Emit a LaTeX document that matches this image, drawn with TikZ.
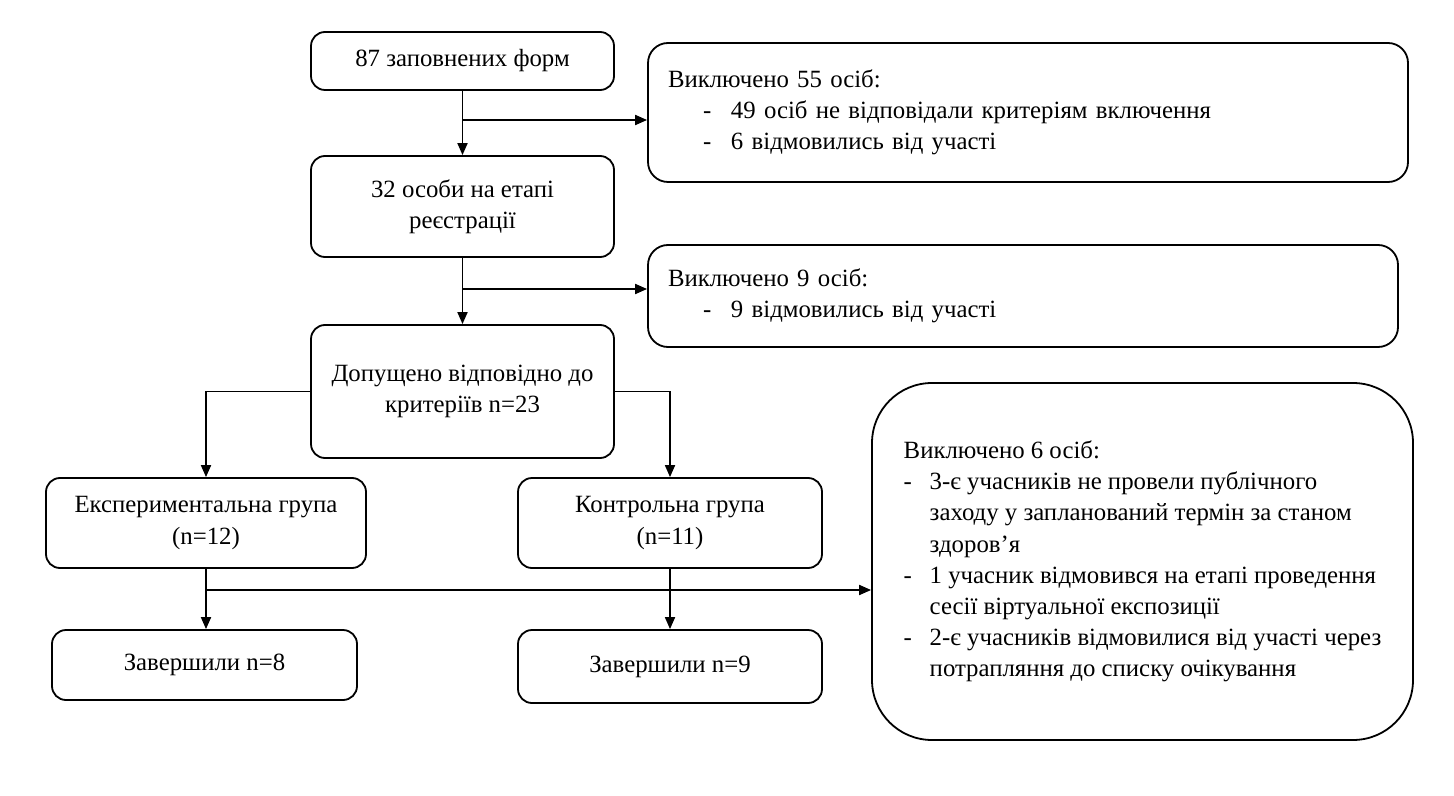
\documentclass[tikz,border=0pt]{standalone}
\usepackage{fontspec}
\setmainfont{Liberation Serif}
\usetikzlibrary{positioning, calc, arrows.meta}

\begin{document}
\begin{tikzpicture}[
    x=0.5pt, y=-0.5pt,
    box/.style={rectangle, draw, rounded corners=7pt, line width=0.9pt, align=center, inner sep=2pt, font=\fontsize{12.4}{15.6}\selectfont},
    excl/.style={box, align=left, inner xsep=10pt, rounded corners=10pt},
    flow_arrow/.style={-{Triangle[length=6pt, width=5pt]}, line width=0.9pt},
]
    \useasboundingbox (0,0) rectangle (1454,796);

    % Основний стовпець
    \node[box, minimum width=151.5pt, minimum height=29pt] (forms) at (462.5,61) {87 заповнених форм};
    \node[box, minimum width=151.5pt, minimum height=50.5pt] (reg) at (462.5,206.5) {32 особи на етапі\\реєстрації};
    \node[box, minimum width=151.5pt, minimum height=66.5pt] (adm) at (462.5,391.5) {Допущено відповідно до\\критеріїв n=23};

    % Групи
    \node[box, minimum width=160pt, minimum height=45pt] (exp) at (206,523) {Експериментальна група\\(n=12)};
    \node[box, minimum width=152pt, minimum height=45pt] (ctrl) at (670,523) {Контрольна група\\(n=11)};
    \node[box, minimum width=152.5pt, minimum height=35pt] (fin_exp) at (204.5,665) {Завершили n=8};
    \node[box, minimum width=152pt, minimum height=36.5pt] (fin_ctrl) at (670,666.5) {Завершили n=9};

    % Виключені
    \node[excl, minimum width=380pt, minimum height=69.5pt, text width=360pt] (excl_a) at (1028,112.5)
        {Виключено 55 осіб:\\
         \hspace*{17.5pt}\makebox[14pt][l]{-}49 осіб не відповідали критеріям включення\\
         \hspace*{17.5pt}\makebox[14pt][l]{-}6 відмовились від участі};
    \node[excl, minimum width=375pt, minimum height=51pt, text width=355pt] (excl_b) at (1023,296)
        {Виключено 9 осіб:\\
         \hspace*{17.5pt}\makebox[14pt][l]{-}9 відмовились від участі};
    \node[excl, inner xsep=15pt, rounded corners=30pt, minimum width=270.5pt, minimum height=178.5pt] (excl_c) at (1142.5,561.5)
        {Виключено 6 осіб:\\
         \makebox[13pt][l]{-}3-є учасників не провели публічного\\
         \hspace*{13pt}заходу у запланований термін за станом\\
         \hspace*{13pt}здоров’я\\
         \makebox[13pt][l]{-}1 учасник відмовився на етапі проведення\\
         \hspace*{13pt}сесії віртуальної експозиції\\
         \makebox[13pt][l]{-}2-є учасників відмовилися від участі через\\
         \hspace*{13pt}потрапляння до списку очікування};

    % Стрілки
    \coordinate (split_a) at (462.5,120);
    \coordinate (split_b) at (462.5,289);
    \coordinate (split_c) at (206,590);
    \draw[flow_arrow] (forms) -- (reg);
    \draw[flow_arrow] (split_a) -- (split_a -| excl_a.west);
    \draw[flow_arrow] (reg) -- (adm);
    \draw[flow_arrow] (split_b) -- (split_b -| excl_b.west);
    \draw[flow_arrow] (adm.west) -| (exp.north);
    \draw[flow_arrow] (adm.east) -| (ctrl.north);
    \draw[flow_arrow] (exp.south) -- (exp.south |- fin_exp.north);
    \draw[flow_arrow] (split_c) -- (split_c -| excl_c.west);
    \draw[flow_arrow] (ctrl) -- (fin_ctrl);
\end{tikzpicture}
\end{document}
